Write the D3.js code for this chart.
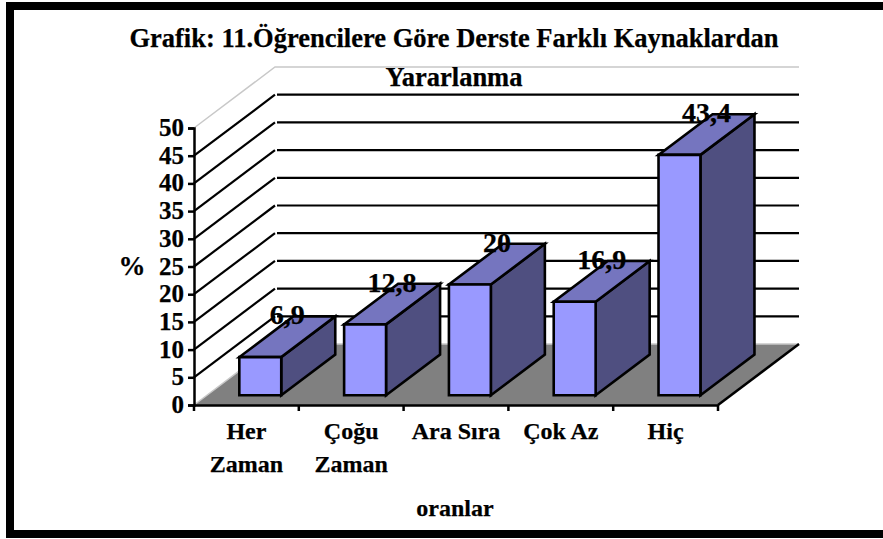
<!DOCTYPE html>
<html>
<head>
<meta charset="utf-8">
<script src="https://cdn.jsdelivr.net/npm/d3@7"></script>
<style>
body { margin: 0; background: #fff; }
svg { display: block; }
text { font-family: "Liberation Serif", serif; font-weight: bold; fill: #000; stroke: #000; stroke-width: 0.25px; }
</style>
</head>
<body>
<script>
// the data
var categories = ["Her Zaman", "Çoğu Zaman", "Ara Sıra", "Çok Az", "Hiç"];
var categoryLines = [["Her", "Zaman"], ["Çoğu", "Zaman"], ["Ara Sıra"], ["Çok Az"], ["Hiç"]];
var values = [6.9, 12.8, 20, 16.9, 43.4];
var valueLabels = ["6,9", "12,8", "20", "16,9", "43,4"];
var yTicks = [0, 5, 10, 15, 20, 25, 30, 35, 40, 45, 50];
var titleLines = ["Grafik: 11.Öğrencilere Göre Derste Farklı Kaynaklardan", "Yararlanma"];

var width = 883, height = 539;

// plot box and the 3d offset of the back wall
var plot = {left: 194, right: 718, top: 128, bottom: 405};
var depth = {dx: 81, dy: -61};
var barDepth = {front: 0.159, back: 0.826};

var x = d3.scaleBand().domain(categories).range([plot.left, plot.right]);
var y = d3.scaleLinear().domain([0, 50]).range([plot.bottom, plot.top]);
var barWidth = x.bandwidth() * 0.4;

var svg = d3.select("body").append("svg")
    .attr("width", width)
    .attr("height", height);

var line = d3.line();

// screen position of a point: px, value, depth 0..1
function pt(px, v, d) {
    return [px + depth.dx * d, y(v) + depth.dy * d];
}

function poly(points, fill, stroke, sw) {
    svg.append("path")
        .attr("d", line(points) + "Z")
        .attr("fill", fill)
        .attr("stroke", stroke)
        .attr("stroke-width", sw)
        .attr("stroke-linejoin", "miter");
}

// outer frame
svg.append("rect")
    .attr("x", 10).attr("y", 6)
    .attr("width", width + 20).attr("height", 528)
    .attr("fill", "#fff")
    .attr("stroke", "#000")
    .attr("stroke-width", 8);

// floor
poly([pt(plot.left, 0, 0), pt(plot.right, 0, 0), pt(plot.right, 0, 1), pt(plot.left, 0, 1)], "#808080", "none", 0);

// walls outline, light grey
svg.append("path")
    .attr("d", line([pt(plot.left, 0, 0), pt(plot.left, 0, 1), pt(plot.right, 0, 1)]))
    .attr("fill", "none").attr("stroke", "#c8c8c8").attr("stroke-width", 1.5);
svg.append("path")
    .attr("d", line([pt(plot.left, 50, 0), pt(plot.left, 50, 1), pt(plot.right, 50, 1)]))
    .attr("fill", "none").attr("stroke", "#c8c8c8").attr("stroke-width", 1.5);

// gridlines on side wall and back wall
yTicks.filter(function(t) { return t > 0 && t < 50; }).forEach(function(t) {
    svg.append("path")
        .attr("d", line([pt(plot.left, t, 0), pt(plot.left, t, 1)]))
        .attr("stroke", "#000").attr("stroke-width", 2.2);
    var a = pt(plot.left, t, 1), b = pt(plot.right, t, 1);
    svg.append("path")
        .attr("d", line([[a[0] + 2, a[1]], b]))
        .attr("stroke", "#000").attr("stroke-width", 2.2);
});

// floor right edge
svg.append("path")
    .attr("d", line([pt(plot.right, 0, 0), pt(plot.right, 0, 1)]))
    .attr("fill", "none").attr("stroke", "#000").attr("stroke-width", 2.5);

// the bars
categories.forEach(function(c, i) {
    var x0 = x(c) + (x.bandwidth() - barWidth) / 2 + 1;
    var x1 = x0 + barWidth;
    var v = values[i];
    // side
    poly([pt(x1, 0, barDepth.front), pt(x1, 0, barDepth.back), pt(x1, v, barDepth.back), pt(x1, v, barDepth.front)], "#4f4f80", "#000", 2.6);
    // top
    poly([pt(x0, v, barDepth.front), pt(x1, v, barDepth.front), pt(x1, v, barDepth.back), pt(x0, v, barDepth.back)], "#7575bf", "#000", 2.6);
    // front
    poly([pt(x0, 0, barDepth.front), pt(x1, 0, barDepth.front), pt(x1, v, barDepth.front), pt(x0, v, barDepth.front)], "#9999ff", "#000", 2.6);
});

// value labels
svg.selectAll(".value")
    .data(values)
    .enter()
    .append("text")
    .classed("value", true)
    .attr("text-anchor", "middle")
    .style("font-size", "28px")
    .attr("x", function(d, i) {
        return pt(x(categories[i]) + x.bandwidth() / 2 + 1, d, (barDepth.front + barDepth.back) / 2)[0];
    })
    .attr("y", function(d) { return pt(0, d, barDepth.back)[1] + 8; })
    .text(function(d, i) { return valueLabels[i]; });

// y axis
var yAxis = svg.append("g")
    .attr("transform", "translate(" + plot.left + ",0)")
    .call(d3.axisLeft(y).tickValues(yTicks).tickSize(6).tickPadding(4).tickFormat(d3.format("d")));
yAxis.selectAll("path, line").attr("stroke", "#000").attr("stroke-width", 2.5);
yAxis.selectAll("text").style("font-size", "25px").attr("font-family", null).attr("dy", "0.3em");

// x axis, ticks sit between the bands
var xAxis = svg.append("g")
    .attr("transform", "translate(0," + plot.bottom + ")")
    .call(d3.axisBottom(x).tickSize(0).tickFormat(""));
xAxis.selectAll("path").attr("stroke", "#000").attr("stroke-width", 2.5);
x.domain().concat("end").forEach(function(c) {
    var px = c === "end" ? plot.right : x(c);
    xAxis.append("line")
        .attr("x1", px).attr("x2", px)
        .attr("y1", 0).attr("y2", 6)
        .attr("stroke", "#000").attr("stroke-width", 2.5);
});

// category labels
categories.forEach(function(c, i) {
    categoryLines[i].forEach(function(t, j) {
        svg.append("text")
            .attr("x", x(c) + x.bandwidth() / 2)
            .attr("y", 439 + j * 33)
            .attr("text-anchor", "middle")
            .style("font-size", "24px")
            .text(t);
    });
});

// title
titleLines.forEach(function(t, i) {
    svg.append("text")
        .attr("x", 454)
        .attr("y", 47 + i * 39)
        .attr("text-anchor", "middle")
        .style("font-size", "26.5px")
        .text(t);
});

// axis titles
svg.append("text")
    .attr("x", 132).attr("y", 275)
    .attr("text-anchor", "middle")
    .style("font-size", "27px")
    .text("%");

svg.append("text")
    .attr("x", 455).attr("y", 516)
    .attr("text-anchor", "middle")
    .style("font-size", "24px")
    .text("oranlar");
</script>
</body>
</html>
